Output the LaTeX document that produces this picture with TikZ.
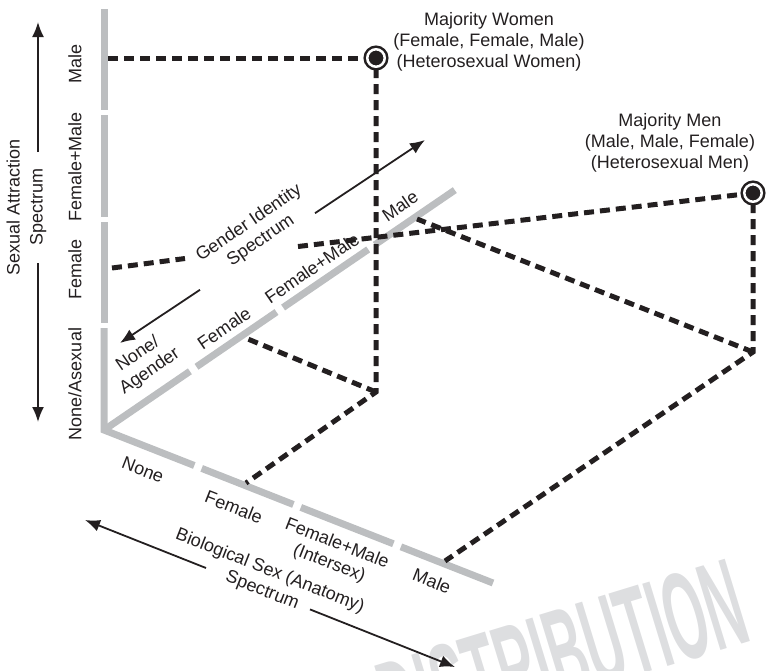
\documentclass[tikz,border=0pt]{standalone}
\usepackage{fontspec}
\setmainfont{Liberation Sans}
\usetikzlibrary{arrows.meta}
\definecolor{axisgray}{RGB}{188,190,192}
\definecolor{ink}{RGB}{35,31,32}
\definecolor{wmgray}{RGB}{221,222,224}
\tikzset{
  axisline/.style={draw=axisgray, line width=7pt},
  dashline/.style={draw=ink, line width=5pt, dash pattern=on 10pt off 6pt},
  arr/.style={draw=ink, line width=1.8pt, -{Latex[length=15pt,width=12pt]}},
  lbl/.style={text=ink, inner sep=0pt, align=center},
  marker/.style={circle, draw=ink, fill=ink, line width=2.5pt, double=white,
    double distance=2.5pt, minimum size=17.5pt, inner sep=0pt},
  wmtext/.style={text=wmgray, inner sep=0pt, font=\bfseries\fontsize{125}{125}\selectfont}
}
\begin{document}
\begin{tikzpicture}[x=1pt, y=-1pt, font=\fontsize{18}{21}\selectfont]
\useasboundingbox (0,0) rectangle (768,670);

% watermark
\begin{scope}
  \clip (0,0) rectangle (768,670);
  \node[wmtext, anchor=base east, rotate=17, xscale=0.42] (wmk) at (754,640) {NOT FOR DISTRIBUTION};
\end{scope}

% key points
\coordinate (O) at (104,430);
\coordinate (Wf) at (376,392);
\coordinate (Mf) at (753,352);
\coordinate (aM) at (108,58);
\coordinate (aF) at (112,268);
\coordinate (gF) at (243,337);
\coordinate (sF) at (246,483);
\coordinate (gM) at (417,219);
\coordinate (sM) at (445,561);
\coordinate (gapA) at (185,258.5);
\coordinate (gapB) at (298,246.5);

% vertical attraction axis
\draw[axisline] (104,9) -- (104,110);
\draw[axisline] (104,115) -- (104,217);
\draw[axisline] (104,222) -- (104,323);
\draw[axisline, line join=miter] (104,328) -- (O) -- (194.3,465.5);
% gender identity axis
\draw[axisline] (O) -- (189.9,371.3);
\draw[axisline] (196.5,366.8) -- (276.5,312.0);
\draw[axisline] (283.1,307.5) -- (368.2,249.4);
\draw[axisline] (374.8,244.8) -- (454.8,190.1);
% biological sex axis
\draw[axisline] (201.7,468.4) -- (293.4,504.5);
\draw[axisline] (300.8,507.4) -- (393.4,543.8);
\draw[axisline] (400.9,546.8) -- (493.0,583.0);

% attraction axis labels
\node[lbl, rotate=90] (lsa) at (26.5,207) {Sexual Attraction\\[2pt]Spectrum};
\node[lbl, rotate=90] (aLM) at (75,64) {Male};
\node[lbl, rotate=90] (aLFM) at (75,167) {Female+Male};
\node[lbl, rotate=90] (aLF) at (75,269) {Female};
\node[lbl, rotate=90] (aLN) at (75,384) {None/Asexual};

% gender labels
\node[lbl, rotate=34.4] (lgi) at (255,232) {Gender Identity\\Spectrum};
\node[lbl, rotate=34.4] (gLN) at (144,363) {None/\\Agender};
\node[lbl, rotate=34.4] (gLF) at (224,328) {Female};
\node[lbl, rotate=34.4] (gLFM) at (312,268) {Female+Male};
\node[lbl, rotate=34.4] (gLM) at (400,206) {Male};

% sex labels
\node[lbl, rotate=-21.5] (lbs) at (266,581) {Biological Sex (Anatomy)\\Spectrum};
\node[lbl, rotate=-21.5] (sLN) at (143,470) {None};
\node[lbl, rotate=-21.5] (sLF) at (234,507) {Female};
\node[lbl, rotate=-21.5] (sLFM) at (333,554) {Female+Male\\(Intersex)};
\node[lbl, rotate=-21.5] (sLM) at (432,581) {Male};

% spectrum arrows
\coordinate (saT) at (38,22);
\coordinate (saA) at (38,152);
\coordinate (saB) at (38,263);
\coordinate (saD) at (38,422);
\draw[arr] (saA) -- (saT);
\draw[arr] (saB) -- (saD);
\coordinate (giL) at (120,343);
\coordinate (giA) at (200,289.8);
\coordinate (giB) at (315,213.2);
\coordinate (giR) at (425,140);
\draw[arr] (giA) -- (giL);
\draw[arr] (giB) -- (giR);
\coordinate (bsL) at (85,520);
\coordinate (bsA) at (206,568);
\coordinate (bsB) at (310,609.4);
\coordinate (bsR) at (455,667);
\draw[arr] (bsA) -- (bsL);
\draw[arr] (bsB) -- (bsR);

% markers
\node[marker] (W) at (376,58) {};
\node[marker] (M) at (753,193) {};

% dashed connectors
\draw[dashline] (aM) -- (W);
\draw[dashline] (W) -- (Wf) -- (sF);
\draw[dashline] (Wf) -- (gF);
\draw[dashline] (aF) -- (gapA);
\draw[dashline] (gapB) -- (M);
\draw[dashline] (M) -- (Mf) -- (sM);
\draw[dashline] (Mf) -- (gM);

% majority labels
\node[lbl] (lW) at (489,42) {Majority Women\\(Female, Female, Male)\\(Heterosexual Women)};
\node[lbl] (lM) at (670,143) {Majority Men\\(Male, Male, Female)\\(Heterosexual Men)};
\end{tikzpicture}
\end{document}
